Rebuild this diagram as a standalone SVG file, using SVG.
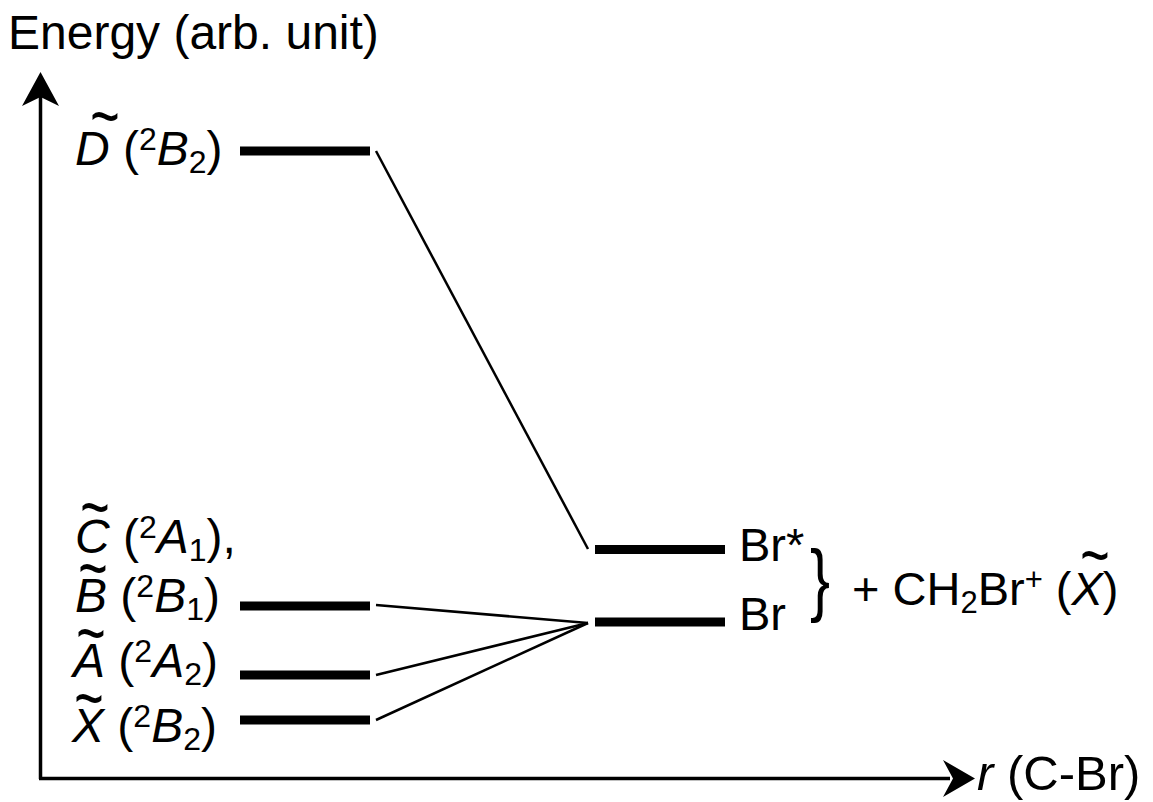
<svg xmlns="http://www.w3.org/2000/svg" width="1153" height="802" viewBox="0 0 1153 802">
<style>
text{font-family:"Liberation Sans",Arial,sans-serif;font-size:48px;fill:#000}
.it{font-style:italic}
.sm{font-size:32px}
.r{font-size:47px}
.rs{font-size:31px}
.lvl{stroke:#000;stroke-width:9;fill:none}
.con{stroke:#000;stroke-width:2.5;fill:none}
.ax{stroke:#000;stroke-width:3.5;fill:none}
</style>
<defs>
<text id="tl" x="0" y="0" text-anchor="middle">~</text>
</defs>
<rect width="1153" height="802" fill="#fff"/>
<g id="axes">
<path class="ax" d="M40.5,779 V96"/>
<path d="M40.5,72 L59,106 L40.5,97 L22,106 Z" fill="#000"/>
<path class="ax" d="M39,778.5 H950"/>
<path d="M975,778.5 L943,760 L953,778.5 L943,797 Z" fill="#000"/>
<text x="8" y="49">Energy (arb. unit)</text>
<text x="977" y="790" style="font-size:49px"><tspan class="it">r</tspan> (C-Br)</text>
</g>
<g id="connectors">
<path class="con" d="M376,151 L588,549"/>
<path class="con" d="M376,605 L588,623"/>
<path class="con" d="M376,675 L588,623"/>
<path class="con" d="M376,720 L588,623"/>
</g>
<g id="D">
<path class="lvl" d="M240,151 H370"/>
<text x="75" y="165"><tspan class="it">D</tspan> (<tspan class="sm" dy="-15">2</tspan><tspan class="it" dy="15">B</tspan><tspan class="sm" dy="8">2</tspan><tspan dy="-8">)</tspan></text>
<use href="#tl" transform="translate(105,117) translate(0,24) scale(1.05,1.5)"/>
</g>
<g id="C">
<text x="75" y="553"><tspan class="it">C</tspan> (<tspan class="sm" dy="-15">2</tspan><tspan class="it" dy="15">A</tspan><tspan class="sm" dy="8">1</tspan><tspan dy="-8">),</tspan></text>
<use href="#tl" transform="translate(95,508) translate(0,24) scale(1.05,1.5)"/>
</g>
<g id="B">
<path class="lvl" d="M240,606 H370"/>
<text x="75" y="612"><tspan class="it">B</tspan> (<tspan class="sm" dy="-15">2</tspan><tspan class="it" dy="15">B</tspan><tspan class="sm" dy="8">1</tspan><tspan dy="-8">)</tspan></text>
<use href="#tl" transform="translate(93,569) translate(0,24) scale(1.05,1.5)"/>
</g>
<g id="A">
<path class="lvl" d="M240,675 H370"/>
<text x="73" y="677"><tspan class="it">A</tspan> (<tspan class="sm" dy="-15">2</tspan><tspan class="it" dy="15">A</tspan><tspan class="sm" dy="8">2</tspan><tspan dy="-8">)</tspan></text>
<use href="#tl" transform="translate(91,634) translate(0,24) scale(1.05,1.5)"/>
</g>
<g id="X">
<path class="lvl" d="M240,720 H370"/>
<text x="72" y="742"><tspan class="it">X</tspan> (<tspan class="sm" dy="-15">2</tspan><tspan class="it" dy="15">B</tspan><tspan class="sm" dy="8">2</tspan><tspan dy="-8">)</tspan></text>
<use href="#tl" transform="translate(89,699) translate(0,24) scale(1.05,1.5)"/>
</g>
<g id="BrStar">
<path class="lvl" d="M595,549.5 H725"/>
<text class="r" x="739" y="561">Br*</text>
</g>
<g id="Br">
<path class="lvl" d="M595,622 H725"/>
<text class="r" x="739" y="630">Br</text>
</g>
<g id="products">
<text transform="translate(810,606) scale(0.75,1)" style="font-size:80px">}</text>
<text class="r" x="852" y="605">+ CH<tspan class="rs" dy="8">2</tspan><tspan dy="-8">Br</tspan><tspan class="rs" dy="-15">+</tspan><tspan dy="15"> (</tspan><tspan class="it">X</tspan>)</text>
<use href="#tl" transform="translate(1095,556) translate(0,24) scale(1.05,1.5)"/>
</g>
</svg>
